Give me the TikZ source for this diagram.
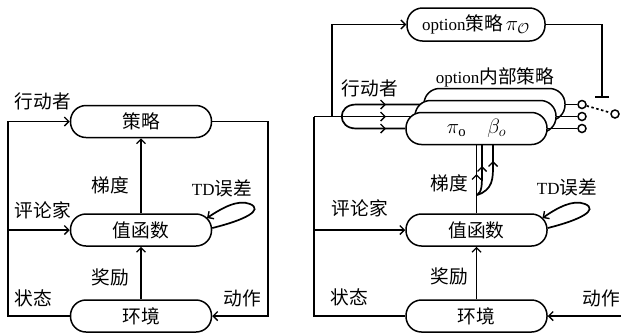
\documentclass[tikz,border=0pt]{standalone}
\usepackage{fontspec}
\setmainfont{Liberation Serif}
\newfontfamily\cjk[Scale=1.1]{Noto Sans CJK SC}
\usetikzlibrary{arrows.meta,calc}
\pgfdeclarelayer{paper}
\pgfdeclarelayer{bg}
\pgfsetlayers{paper,bg,main}
\begin{document}
\begin{tikzpicture}[x=1pt,y=-1pt,
  every node/.style={font=\fontsize{17}{20}\selectfont},
  box/.style={draw,line width=1.5pt,rounded corners=15.5pt,minimum width=141pt,minimum height=32pt,inner sep=0pt,fill=white},
  ln/.style={line width=1.7pt},
  arr/.style={ln,-{Straight Barb[length=4.5pt,width=9pt,line width=1.4pt]}},
  lbl/.style={inner sep=0pt},
  port/.style={circle,draw,line width=1.5pt,minimum size=8pt,inner sep=0pt,fill=white}]
\begin{pgfonlayer}{paper}
\fill[white] (0,0) rectangle (621,333);
\end{pgfonlayer}
\useasboundingbox (0,0) rectangle (621,333);
% ---------------- left diagram ----------------
\node[box] (pol) at (141,121.5) {\cjk 策略};
\node[box] (vf) at (141,230) {\cjk 值函数};
\node[box] (env) at (141,316) {\cjk 环境};
\draw[arr] (env.west) -- ++(-62,0) |- (pol.west);
\coordinate (lc) at (8,230);
\draw[arr] (lc) -- (vf.west);
\draw[arr] (pol.east) -- ++(56,0) |- (env.east);
\draw[arr] (vf.north) -- (pol.south);
\draw[arr] (env.north) -- (vf.south);
\draw[arr] ($(vf.east)+(0,-2)$) .. controls (245,220) and (264,210) .. (250,204) .. controls (238,199) and (222,208) .. ($(vf.center)+(66,-12)$);
\node[lbl] (a1) at (43,101) {\cjk 行动者};
\node[lbl] (a2) at (43,210) {\cjk 评论家};
\node[lbl] (a3) at (33,298) {\cjk 状态};
\node[lbl] (a4) at (242,298) {\cjk 动作};
\node[lbl] (a5) at (110,185) {\cjk 梯度};
\node[lbl] (a6) at (110,277) {\cjk 奖励};
\node[lbl] (a7) at (222,188) {TD{\cjk 误差}};
% ---------------- right diagram ----------------
\node[box,minimum width=138pt,minimum height=33pt] (opt) at (476,24.5) {option{\cjk 策略}\,{\fontsize{20}{22}\selectfont$\pi_{\mathcal{O}}$}};
\node[box] (bk) at (494.5,104.5) {};
\node[box] (md) at (485.5,116.5) {};
\node[box] (fr) at (476.5,128.5) {\fontsize{21}{22}\selectfont$\pi_{\mathrm{o}}\quad\beta_{o}$};
\node[box] (vf2) at (476.5,230) {\cjk 值函数};
\node[box] (env2) at (476.5,316) {\cjk 环境};
\node[port] (c1) at (582,104.5) {};
\node[port] (c2) at (582,116.5) {};
\node[port] (c3) at (582,128.5) {};
\node[port] (c4) at (615,114) {};
\node[lbl] (b0) at (495,77) {option{\cjk 内部策略}};
\node[lbl] (b1) at (370,88) {\cjk 行动者};
\node[lbl] (b2) at (360,208) {\cjk 评论家};
\node[lbl] (b3) at (349,297) {\cjk 状态};
\node[lbl] (b4) at (601,298) {\cjk 动作};
\node[lbl] (b5) at (449,183) {\cjk 梯度};
\node[lbl] (b6) at (449,276) {\cjk 奖励};
\node[lbl] (b7) at (567,187) {TD{\cjk 误差}};
\begin{pgfonlayer}{bg}
\coordinate (ja) at (314,116.5);
\coordinate (jb) at (332,116.5);
\draw[ln] (env2.west) -| (ja);
\draw[arr] (jb) |- (opt.west);
\draw[arr] (ja) -- (386,116.5);
\draw[ln] (384,116.5) -- (md.west);
\draw[ln] (bk.west) -- (356,104.5) .. controls (337,104.5) and (337,128.5) .. (356,128.5) -- (fr.west);
\draw[arr] (370,104.5) -- (386,104.5);
\draw[arr] (370,128.5) -- (386,128.5);
\draw[ln] (vf2.north) -- (fr.south);
\draw[arr] (476.5,190) -- (476.5,174);
\draw[ln] (477,195) .. controls (482,192) and (482,185) .. (482,172) -- (482,140);
\draw[arr] (482,176) -- (482,166);
\draw[ln] (477,195) .. controls (493,190) and (493,178) .. (493,166) -- (493,140);
\draw[arr] (493,171) -- (493,161);
\end{pgfonlayer}
\draw[ln] (bk.east) -- (c1);
\draw[ln] (md.east) -- (c2);
\draw[ln] (fr.east) -- (c3);
\draw[ln,dash pattern=on 2.5pt off 2.5pt] (c1) -- (c4);
\draw[ln,-{Bar[width=14pt,line width=1.7pt]}] (opt.east) -| (602,98);
\coordinate (lc2) at (314,230);
\draw[arr] (lc2) -- (vf2.west);
\coordinate (ra) at (630,316);
\draw[arr] (ra) -- (env2.east);
\draw[arr] (env2.north) -- (vf2.south);
\draw[arr] ($(vf2.east)+(0,-2)$) .. controls (580,220) and (599,210) .. (585,204) .. controls (573,199) and (557,208) .. ($(vf2.center)+(66,-12)$);
\end{tikzpicture}
\end{document}
